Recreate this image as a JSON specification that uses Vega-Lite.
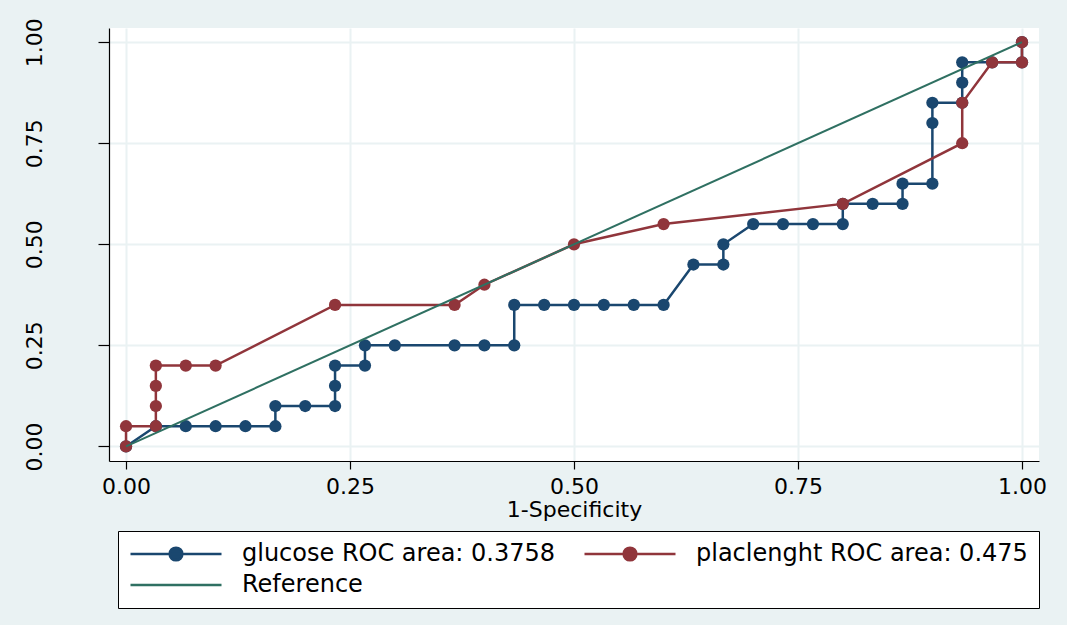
{
  "$schema": "https://vega.github.io/schema/vega-lite/v6.json",
  "autosize": {"type": "none"},
  "padding": {"left": 109, "top": 28, "right": 28, "bottom": 164},
  "width": 930,
  "height": 433,
  "background": "#EAF2F3",
  "config": {
    "view": {"fill": "white", "stroke": null},
    "font": "DejaVu Sans",
    "axis": {
      "domainColor": "black",
      "domainWidth": 1.2,
      "tickColor": "black",
      "tickWidth": 1.2,
      "gridColor": "#EAF2F3",
      "gridWidth": 2,
      "labelFontSize": 22,
      "labelColor": "black",
      "titleColor": "black",
      "titleFontWeight": "normal",
      "labelFont": "DejaVu Sans",
      "titleFont": "DejaVu Sans"
    }
  },
  "data": {
    "values": [
      {"series": "glucose ROC area: 0.3758", "o": 1, "x": 0, "y": 0},
      {"series": "glucose ROC area: 0.3758", "o": 2, "x": 0.0333, "y": 0.05},
      {"series": "glucose ROC area: 0.3758", "o": 3, "x": 0.0667, "y": 0.05},
      {"series": "glucose ROC area: 0.3758", "o": 4, "x": 0.1, "y": 0.05},
      {"series": "glucose ROC area: 0.3758", "o": 5, "x": 0.1333, "y": 0.05},
      {"series": "glucose ROC area: 0.3758", "o": 6, "x": 0.1667, "y": 0.05},
      {"series": "glucose ROC area: 0.3758", "o": 7, "x": 0.1667, "y": 0.1},
      {"series": "glucose ROC area: 0.3758", "o": 8, "x": 0.2, "y": 0.1},
      {"series": "glucose ROC area: 0.3758", "o": 9, "x": 0.2333, "y": 0.1},
      {"series": "glucose ROC area: 0.3758", "o": 10, "x": 0.2333, "y": 0.15},
      {"series": "glucose ROC area: 0.3758", "o": 11, "x": 0.2333, "y": 0.2},
      {"series": "glucose ROC area: 0.3758", "o": 12, "x": 0.2667, "y": 0.2},
      {"series": "glucose ROC area: 0.3758", "o": 13, "x": 0.2667, "y": 0.25},
      {"series": "glucose ROC area: 0.3758", "o": 14, "x": 0.3, "y": 0.25},
      {"series": "glucose ROC area: 0.3758", "o": 15, "x": 0.3667, "y": 0.25},
      {"series": "glucose ROC area: 0.3758", "o": 16, "x": 0.4, "y": 0.25},
      {"series": "glucose ROC area: 0.3758", "o": 17, "x": 0.4333, "y": 0.25},
      {"series": "glucose ROC area: 0.3758", "o": 18, "x": 0.4333, "y": 0.35},
      {"series": "glucose ROC area: 0.3758", "o": 19, "x": 0.4667, "y": 0.35},
      {"series": "glucose ROC area: 0.3758", "o": 20, "x": 0.5, "y": 0.35},
      {"series": "glucose ROC area: 0.3758", "o": 21, "x": 0.5333, "y": 0.35},
      {"series": "glucose ROC area: 0.3758", "o": 22, "x": 0.5667, "y": 0.35},
      {"series": "glucose ROC area: 0.3758", "o": 23, "x": 0.6, "y": 0.35},
      {"series": "glucose ROC area: 0.3758", "o": 24, "x": 0.6333, "y": 0.45},
      {"series": "glucose ROC area: 0.3758", "o": 25, "x": 0.6667, "y": 0.45},
      {"series": "glucose ROC area: 0.3758", "o": 26, "x": 0.6667, "y": 0.5},
      {"series": "glucose ROC area: 0.3758", "o": 27, "x": 0.7, "y": 0.55},
      {"series": "glucose ROC area: 0.3758", "o": 28, "x": 0.7333, "y": 0.55},
      {"series": "glucose ROC area: 0.3758", "o": 29, "x": 0.7667, "y": 0.55},
      {"series": "glucose ROC area: 0.3758", "o": 30, "x": 0.8, "y": 0.55},
      {"series": "glucose ROC area: 0.3758", "o": 31, "x": 0.8, "y": 0.6},
      {"series": "glucose ROC area: 0.3758", "o": 32, "x": 0.8333, "y": 0.6},
      {"series": "glucose ROC area: 0.3758", "o": 33, "x": 0.8667, "y": 0.6},
      {"series": "glucose ROC area: 0.3758", "o": 34, "x": 0.8667, "y": 0.65},
      {"series": "glucose ROC area: 0.3758", "o": 35, "x": 0.9, "y": 0.65},
      {"series": "glucose ROC area: 0.3758", "o": 36, "x": 0.9, "y": 0.8},
      {"series": "glucose ROC area: 0.3758", "o": 37, "x": 0.9, "y": 0.85},
      {"series": "glucose ROC area: 0.3758", "o": 38, "x": 0.9333, "y": 0.85},
      {"series": "glucose ROC area: 0.3758", "o": 39, "x": 0.9333, "y": 0.9},
      {"series": "glucose ROC area: 0.3758", "o": 40, "x": 0.9333, "y": 0.95},
      {"series": "glucose ROC area: 0.3758", "o": 41, "x": 0.9667, "y": 0.95},
      {"series": "glucose ROC area: 0.3758", "o": 42, "x": 1, "y": 0.95},
      {"series": "glucose ROC area: 0.3758", "o": 43, "x": 1, "y": 1},
      {"series": "placlenght ROC area: 0.475", "o": 1, "x": 0, "y": 0},
      {"series": "placlenght ROC area: 0.475", "o": 2, "x": 0, "y": 0.05},
      {"series": "placlenght ROC area: 0.475", "o": 3, "x": 0.0333, "y": 0.05},
      {"series": "placlenght ROC area: 0.475", "o": 4, "x": 0.0333, "y": 0.1},
      {"series": "placlenght ROC area: 0.475", "o": 5, "x": 0.0333, "y": 0.15},
      {"series": "placlenght ROC area: 0.475", "o": 6, "x": 0.0333, "y": 0.2},
      {"series": "placlenght ROC area: 0.475", "o": 7, "x": 0.0667, "y": 0.2},
      {"series": "placlenght ROC area: 0.475", "o": 8, "x": 0.1, "y": 0.2},
      {"series": "placlenght ROC area: 0.475", "o": 9, "x": 0.2333, "y": 0.35},
      {"series": "placlenght ROC area: 0.475", "o": 10, "x": 0.3667, "y": 0.35},
      {"series": "placlenght ROC area: 0.475", "o": 11, "x": 0.4, "y": 0.4},
      {"series": "placlenght ROC area: 0.475", "o": 12, "x": 0.5, "y": 0.5},
      {"series": "placlenght ROC area: 0.475", "o": 13, "x": 0.6, "y": 0.55},
      {"series": "placlenght ROC area: 0.475", "o": 14, "x": 0.8, "y": 0.6},
      {"series": "placlenght ROC area: 0.475", "o": 15, "x": 0.9333, "y": 0.75},
      {"series": "placlenght ROC area: 0.475", "o": 16, "x": 0.9333, "y": 0.85},
      {"series": "placlenght ROC area: 0.475", "o": 17, "x": 0.9667, "y": 0.95},
      {"series": "placlenght ROC area: 0.475", "o": 18, "x": 1, "y": 0.95},
      {"series": "placlenght ROC area: 0.475", "o": 19, "x": 1, "y": 1},
      {"series": "Reference", "o": 1, "x": 0, "y": 0},
      {"series": "Reference", "o": 2, "x": 1, "y": 1}
    ]
  },
  "encoding": {
    "x": {
      "field": "x", "type": "quantitative",
      "scale": {"domain": [-0.019, 1.019], "nice": false, "zero": false},
      "axis": {
        "values": [0, 0.25, 0.5, 0.75, 1], "format": ".2f",
        "title": "1-Specificity", "titleFontSize": 22, "titlePadding": 2,
        "tickSize": 8, "labelPadding": 7, "labelFlush": false
      }
    },
    "y": {
      "field": "y", "type": "quantitative",
      "scale": {"domain": [-0.036, 1.035], "nice": false, "zero": false},
      "axis": {
        "values": [0, 0.25, 0.5, 0.75, 1], "format": ".2f", "title": null,
        "tickSize": 11, "labelAngle": 270, "labelAlign": "center",
        "labelBaseline": "bottom", "labelPadding": 52, "labelFlush": false
      }
    },
    "color": {
      "field": "series", "type": "nominal",
      "scale": {
        "domain": ["glucose ROC area: 0.3758", "placlenght ROC area: 0.475", "Reference"],
        "range": ["#1A476F", "#90353B", "#2F7062"]
      },
      "legend": {
        "title": null,
        "orient": "none",
        "legendX": 9,
        "legendY": 503,
        "direction": "horizontal",
        "columns": 2,
        "columnPadding": 27,
        "rowPadding": 7,
        "padding": 11,
        "strokeColor": "black",
        "fillColor": "white",
        "labelFontSize": 24,
        "labelFont": "DejaVu Sans",
        "labelColor": "black",
        "labelOffset": 19,
        "symbolSize": 8281,
        "clipHeight": 24,
        "symbolStrokeWidth": 2.5,
        "labelLimit": 500,
        "encode": {
          "symbols": {
            "update": {
              "shape": {"signal": "datum.value === 'Reference' ? 'M-1,0H1' : 'M-1,0H1M-0.14,0A0.14,0.14 0 1,0 0.14,0A0.14,0.14 0 1,0 -0.14,0Z'"},
              "fill": {"signal": "scale('color', datum.value)"},
              "stroke": {"signal": "scale('color', datum.value)"},
              "fillOpacity": {"value": 1},
              "strokeWidth": {"value": 2.5}
            }
          }
        }
      }
    },
    "order": {"field": "o", "type": "quantitative"}
  },
  "layer": [
    {
      "transform": [{"filter": "datum.series === 'glucose ROC area: 0.3758'"}],
      "mark": {"type": "line", "strokeWidth": 2.5}
    },
    {
      "transform": [{"filter": "datum.series === 'glucose ROC area: 0.3758'"}],
      "mark": {"type": "point", "filled": true, "size": 150, "opacity": 1}
    },
    {
      "transform": [{"filter": "datum.series === 'placlenght ROC area: 0.475'"}],
      "mark": {"type": "line", "strokeWidth": 2.5}
    },
    {
      "transform": [{"filter": "datum.series === 'placlenght ROC area: 0.475'"}],
      "mark": {"type": "point", "filled": true, "size": 150, "opacity": 1}
    },
    {
      "transform": [{"filter": "datum.series === 'Reference'"}],
      "mark": {"type": "line", "strokeWidth": 2}
    }
  ]
}
